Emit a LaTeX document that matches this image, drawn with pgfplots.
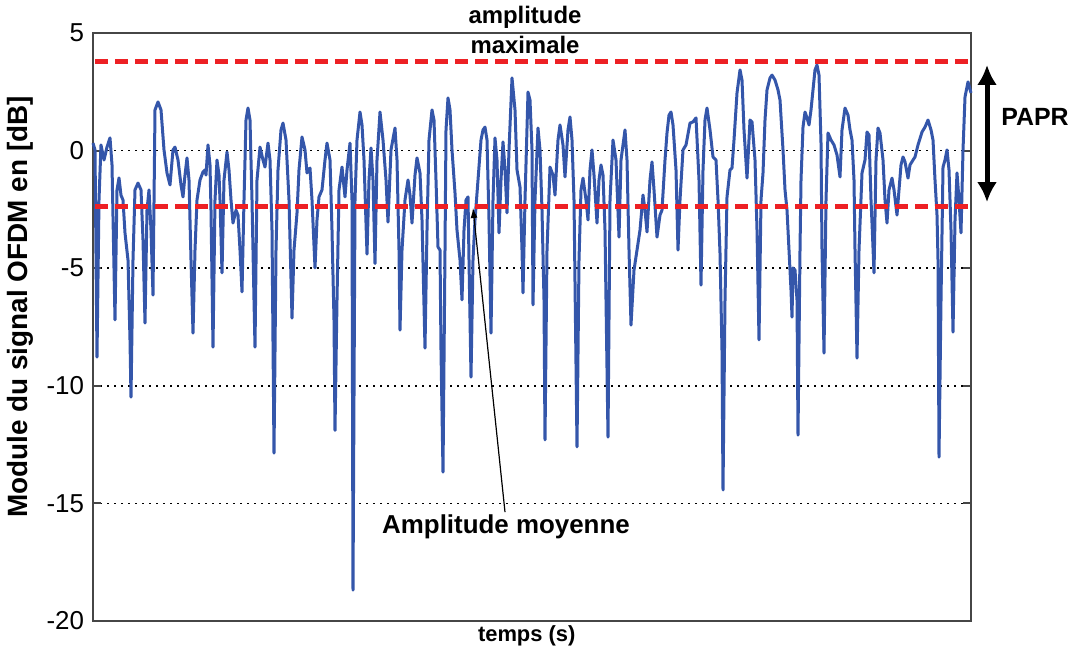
\documentclass[border=0pt]{standalone}
\usepackage{pgfplots}
\pgfplotsset{compat=1.18}
\usepackage{fontspec}
\setmainfont{Liberation Sans}
\usetikzlibrary{arrows.meta}
\definecolor{sigblue}{RGB}{52,86,170}
\definecolor{dashred}{RGB}{237,32,36}
\definecolor{axgray}{RGB}{70,70,70}
\begin{document}
\begin{tikzpicture}
\useasboundingbox (-46.5bp,-18bp) rectangle (492bp,310.5bp);
\begin{axis}[
  at={(0,0)}, anchor=south west,
  scale only axis, width=439bp, height=294bp,
  xmin=93, xmax=971, ymin=-20, ymax=5,
  xtick=\empty, ytick={-20,-15,-10,-5,0,5},
  ymajorgrids, grid style={black, line width=0.8bp, dash pattern=on 0.8bp off 2.7bp},
  axis line style={axgray, line width=1bp},
  tick style={axgray, line width=1bp},
  major tick length=4bp, tick align=inside, ytick pos=both,
  /pgf/number format/assume math mode=true,
  yticklabel style={font=\fontsize{13}{13}\selectfont, xshift=-1bp},
  ylabel={\bfseries Module du signal OFDM en [dB]},
  ylabel style={at={(axis description cs:-0.083,0.534)}, anchor=center, font=\fontsize{14}{14}\selectfont},
  xlabel={\bfseries temps (s)},
  xlabel style={at={(axis description cs:0.494,-0.0255)}, anchor=center, font=\fontsize{11}{11}\selectfont},
  clip=false,
]
\addplot[sigblue, line width=1.5bp, line join=round] coordinates {
(93,0.32)(95,0.03)(97,-8.78)(99,-2.1)(101,0.24)(104,-0.4)(107,0.15)(110,0.54)(112,-0.6)(115,-7.2)
(117,-1.67)(119,-1.16)(121,-1.9)(123,-2.1)(125,-3.5)(128,-4.65)(130,-8.05)(131,-10.48)(133,-4.65)(135,-1.67)
(138,-1.38)(141,-1.67)(143,-3.8)(145,-7.33)(147,-2.53)(149,-1.67)(151,-3.38)(153,-6.14)(155,1.73)(158,2.07)
(161,1.73)(164,0.03)(167,-0.95)(170,-1.46)(173,0.03)(175,0.15)(178,-0.4)(181,-1.46)(183,-1.97)(185,-1.04)
(187,-0.31)(189,-1.25)(191,-4.65)(193,-7.76)(195,-4.23)(197,-2.1)(200,-1.25)(203,-0.91)(205,-0.82)
(206,-1.04)(208,0.24)(210,-0.61)(211,-2.53)(213,-8.36)(215,-2.1)(217,-0.4)(219,-1.04)(220,-2.1)(222,-5.2)
(224,-1.25)(227,-0.06)(229,-0.82)(231,-2.1)(233,-3.08)(236,-2.53)(238,-2.74)(240,-4.23)(242,-6.01)(244,-2.1)
(246,1.3)(248,1.81)(250,1.3)(252,-2.1)(254,-6.35)(255,-8.36)(257,-1.25)(260,0.15)(263,-0.4)(265,-0.7)
(268,0.32)(270,-0.4)(272,-3.38)(274,-12.86)(276,-4.23)(278,-0.82)(281,0.88)(283,1.17)(286,0.45)(289,-2.1)
(292,-7.12)(294,-4.23)(297,-2.65)(299,-0.82)(302,0.58)(305,0.03)(307,-0.95)(310,-0.74)(312,-2.1)(315,-4.99)
(317,-2.95)(319,-1.97)(322,-1.67)(325,-0.4)(327,0.32)(330,-0.4)(332,-3.38)(334,-7.2)(335,-11.9)(337,-6.35)
(339,-1.67)(342,-0.7)(345,-1.97)(347,-0.82)(350,0.32)(352,-2.1)(353,-18.69)(355,-2.1)(357,0.45)(360,1.64)
(362,1.09)(364,-0.4)(367,-4.4)(369,-1.25)(371,0.11)(373,-1.25)(375,-4.8)(377,-0.4)(380,1.64)(383,0.45)
(386,-1.25)(388,-3.04)(391,0.03)(395,0.96)(397,-0.4)(399,-4.23)(400,-7.63)(402,-4.23)(405,-2.1)(408,-1.25)
(410,-1.89)(412,-3.08)(415,-1.04)(417,-0.31)(420,-0.95)(422,-2.95)(425,-8.4)(427,-3.38)(429,0.45)(432,1.73)
(434,1.3)(436,-1.25)(438,-4.1)(440,-4.23)(441,-8.5)(443,-13.67)(445,-4.23)(446,0.88)(448,2.24)(450,1.73)
(452,0.03)(455,-1.8)(457,-3.38)(460,-4.65)(462,-6.35)(464,-3.38)(466,-2.1)(468,-1.97)(469,-4.65)(471,-9.63)
(473,-4.65)(475,-2.95)(478,-1.25)(481,0.45)(483,0.88)(485,1.0)(487,0.45)(489,-2.95)(491,-7.76)(493,-2.1)
(495,0.54)(497,-0.4)(499,-3.5)(501,-1.25)(503,0.37)(505,-0.82)(507,-2.65)(509,0.03)(512,3.09)(515,1.73)
(517,-0.82)(520,-1.55)(522,-4.23)(523,-6.05)(525,-2.1)(528,2.49)(530,2.15)(532,0.03)(533,-6.56)(535,-2.1)
(538,0.96)(540,0.03)(542,-2.53)(544,-6.35)(545,-12.3)(547,-4.23)(550,-0.7)(553,-1.04)(555,-1.89)(558,0.45)
(560,1.09)(563,0.24)(565,-1.12)(568,0.88)(570,1.43)(572,0.45)(574,-2.1)(577,-12.6)(579,-4.65)(581,-1.67)
(583,-1.17)(586,-2.1)(588,-2.95)(590,-0.82)(592,0.03)(594,-1.04)(597,-3.08)(599,-1.25)(601,-0.61)(603,-1.04)
(605,-3.38)(606,-6.35)(608,-12.18)(610,-2.1)(613,0.45)(616,-0.4)(619,-3.68)(621,-0.4)(625,0.88)(627,-0.4)
(629,-4.23)(631,-7.42)(634,-5.08)(637,-4.23)(640,-3.38)(643,-1.89)(645,-2.53)(647,-3.46)(650,-1.25)(652,-0.48)
(654,-1.67)(657,-3.68)(660,-2.74)(662,-2.53)(665,-0.4)(667,0.75)(669,1.51)(671,1.64)(673,1.09)(676,-0.82)
(678,-4.23)(680,-2.1)(683,0.03)(686,0.24)(690,1.17)(693,1.22)(696,1.39)(699,-1.25)(701,-5.72)(703,-0.82)
(705,1.3)(707,1.81)(710,0.88)(713,-0.27)(716,-0.4)(718,-2.1)(720,-4.36)(722,-8.5)(723,-14.43)(725,-6.35)
(727,-1.97)(730,-0.82)(732,-0.74)(734,0.45)(737,2.45)(740,3.43)(742,3.0)(744,0.88)(747,-1.17)(750,1.3)
(752,1.22)(755,-0.4)(757,-3.38)(759,-8.05)(761,-2.1)(763,-0.95)(765,1.3)(767,2.58)(770,3.09)(772,3.21)
(775,3.0)(778,2.58)(780,2.15)(783,0.03)(785,-1.67)(787,-2.53)(789,-4.23)(791,-5.93)(792,-7.08)(793,-4.99)
(795,-5.08)(797,-6.35)(798,-12.1)(800,-4.23)(801,-1.25)(803,1.0)(805,1.64)(807,1.39)(809,1.09)(811,1.73)
(813,2.58)(815,3.43)(817,3.64)(819,3.21)(821,0.32)(822,-4.23)(824,-8.61)(826,-2.1)(828,0.75)(831,0.45)
(834,0.24)(837,-0.19)(840,-1.12)(842,0.88)(845,1.81)(848,1.51)(850,0.88)(852,0.45)(854,-1.25)(855,-4.23)
(857,-8.82)(859,-4.23)(862,-0.95)(865,-0.4)(867,0.79)(869,0.66)(871,-2.1)(872,-3.08)(874,-5.2)(876,-0.4)
(878,0.96)(880,0.75)(883,-0.4)(885,-2.1)(887,-3.08)(889,-1.67)(892,-1.17)(894,-1.67)(897,-2.74)(899,-1.67)
(901,-0.61)(903,-0.27)(905,-0.48)(908,-1.17)(910,-0.61)(913,-0.4)(915,-0.27)(918,0.24)(922,0.79)(925,1.0)
(928,1.3)(931,0.88)(933,0.45)(935,-1.25)(937,-2.74)(938,-4.65)(939,-13.03)(941,-6.35)(943,-0.7)(945,-0.4)
(947,0.03)(949,-0.82)(951,-3.38)(953,-7.72)(955,-2.95)(957,-0.95)(959,-2.1)(961,-3.5)(963,0.03)(965,2.28)
(968,2.92)(971,2.45)
};
\addplot[dashred, line width=2.5bp, dash pattern=on 6.5bp off 3.5bp] coordinates {(95,3.77)(971,3.77)};
\addplot[dashred, line width=2.5bp, dash pattern=on 6.5bp off 3.5bp] coordinates {(95,-2.36)(971,-2.36)};
\draw[black, line width=0.6bp, -{Latex[length=5bp,width=3.5bp]}] (axis cs:505,-15.37) -- (axis cs:473,-2.44);
\draw[black, line width=2.5bp, {Latex[length=10bp,width=10bp]}-{Latex[length=10bp,width=10bp]}] (axis cs:987,3.64) -- (axis cs:987,-2.19);
\node[font=\fontsize{12}{12}\selectfont\bfseries] at (axis cs:525,5.68) {amplitude};
\node[font=\fontsize{12}{12}\selectfont\bfseries] at (axis cs:525,4.49) {maximale};
\node[font=\fontsize{13}{13}\selectfont\bfseries] at (axis cs:506,-16.0) {Amplitude moyenne};
\node[font=\fontsize{12.5}{12.5}\selectfont\bfseries] at (axis cs:1035,1.43) {PAPR};
\end{axis}
\end{tikzpicture}
\end{document}
